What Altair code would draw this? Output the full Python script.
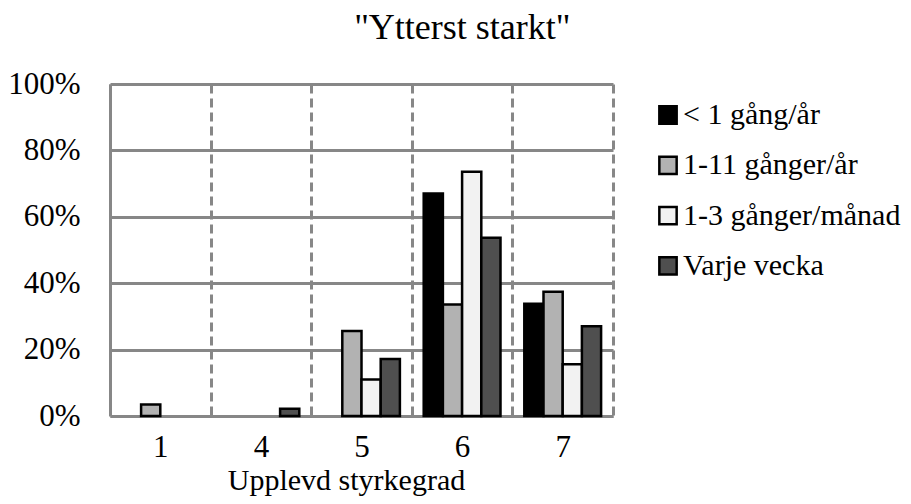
import altair as alt
import pandas as pd

# ---- data ----
categories = ["1", "4", "5", "6", "7"]
series = ["< 1 gång/år", "1-11 gånger/år", "1-3 gånger/månad", "Varje vecka"]
v_lt1 = [0, 0, 0, 67.0, 33.8]
v_1_11 = [3.5, 0, 25.6, 33.6, 37.4]
v_1_3m = [0, 0, 11.0, 73.6, 15.6]
v_week = [0, 2.2, 17.2, 53.7, 27.0]
y_ticks = [0, 20, 40, 60, 80, 100]
colors = ["#000000", "#b2b2b2", "#f2f2f2", "#4f4f4f"]

rows = []
for s, vals in zip(series, [v_lt1, v_1_11, v_1_3m, v_week]):
    for c, v in zip(categories, vals):
        rows.append({"cat": c, "series": s, "value": v})
df = pd.DataFrame(rows)

FONT = "Liberation Serif"
GRID = "#878787"

chart = (
    alt.Chart(df)
    .transform_filter("datum.value > 0")
    .mark_bar(stroke="black", strokeWidth=2.5)
    .encode(
        x=alt.X(
            "cat:N",
            sort=categories,
            scale=alt.Scale(domain=categories, paddingInner=0, paddingOuter=0),
            axis=alt.Axis(
                title="Upplevd styrkegrad",
                labelAngle=0,
                labelFont=FONT,
                labelFontSize=31,
                labelColor="black",
                labelPadding=16,
                titleFont=FONT,
                titleFontSize=30,
                titleFontWeight="normal",
                titleColor="black",
                titleBaseline="alphabetic",
                titleX=236,
                titleY=73,
                ticks=False,
                domain=True,
                domainColor=GRID,
                domainWidth=3,
                grid=True,
                tickBand="extent",
                gridColor=GRID,
                gridWidth=3,
                gridDash=[9, 5],
                gridOpacity=1,
            ),
        ),
        xOffset=alt.XOffset(
            "series:N",
            sort=series,
            scale=alt.Scale(domain=series, paddingInner=0, paddingOuter=0.62),
        ),
        y=alt.Y(
            "value:Q",
            scale=alt.Scale(domain=[0, 100], nice=False),
            axis=alt.Axis(
                title=None,
                values=y_ticks,
                labelExpr="datum.value + '%'",
                labelFont=FONT,
                labelFontSize=31,
                labelColor="black",
                labelPadding=30,
                ticks=False,
                domain=True,
                domainColor=GRID,
                domainWidth=3,
                grid=True,
                gridColor=GRID,
                gridWidth=3,
                gridOpacity=1,
            ),
        ),
        color=alt.Color(
            "series:N",
            sort=series,
            scale=alt.Scale(domain=series, range=colors),
            legend=alt.Legend(
                title=None,
                orient="none",
                legendX=543,
                legendY=16,
                padding=0,
                symbolType="square",
                symbolSize=300,
                symbolStrokeColor="black",
                symbolStrokeWidth=2.5,
                symbolOpacity=1,
                labelFont=FONT,
                labelFontSize=30,
                labelColor="black",
                labelOffset=0,
                rowPadding=20.3,
                labelLimit=400,
            ),
        ),
    )
    .properties(
        width=503,
        height=332,
        autosize=alt.AutoSizeParams(type="none"),
        padding={"left": 102, "top": 76, "right": 290, "bottom": 80},
        title=alt.TitleParams(
            text='"Ytterst starkt"',
            font=FONT,
            fontSize=36,
            fontWeight="normal",
            color="black",
            anchor="middle",
            frame="bounds",
            offset=21,
            dx=8,
        ),
    )
    .configure_view(stroke=None)
)

chart.save("out.html", embed_options={"renderer": "svg", "actions": False})
